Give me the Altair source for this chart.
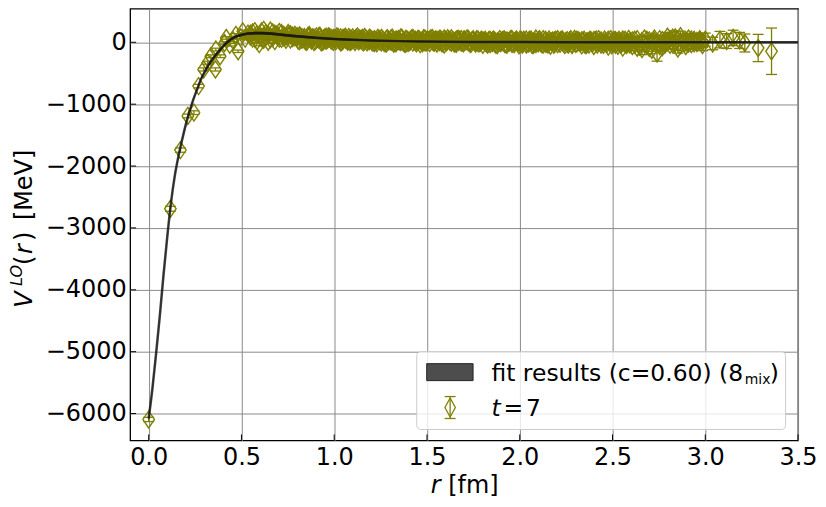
import altair as alt
import pandas as pd

FONT = "DejaVu Sans"
OLIVE = "#808000"

# ---- fit curve (black band) ----
fit_r = [0.00, 0.02, 0.04, 0.06, 0.08, 0.10, 0.12, 0.14, 0.16, 0.18, 0.20, 0.22, 0.24, 0.26,
         0.28, 0.30, 0.32, 0.34, 0.36, 0.38, 0.40, 0.42, 0.44, 0.47, 0.50, 0.54, 0.58, 0.62,
         0.66, 0.70, 0.75, 0.80, 0.90, 1.00, 1.10, 1.20, 1.35, 1.50, 1.75, 2.00, 2.50, 3.00, 3.50]
fit_v = [-6080, -5600, -5030, -4420, -3760, -3150, -2600, -2170, -1850, -1580, -1330, -1120,
         -930, -770, -610, -490, -380, -290, -210, -140, -70, -10, 40, 90, 120, 142, 150, 148,
         140, 128, 112, 96, 72, 54, 40, 30, 19, 12, 6, 3, 1, 0, 0]
fit_err = [45, 45, 42, 40, 38, 35, 32, 30, 28, 26, 24, 22, 22, 22, 22, 22, 22, 22, 22, 22, 22,
           22, 22, 22, 22, 22, 22, 22, 22, 22, 21, 20, 18, 16, 14, 12, 11, 10, 9, 8, 8, 8, 8]

# ---- lattice data t = 7 ----
r_near = [0.000, 0.117, 0.171, 0.211, 0.244, 0.269, 0.296, 0.318, 0.335, 0.360, 0.362, 0.385,
          0.409, 0.418, 0.437, 0.455, 0.470, 0.482, 0.495, 0.507, 0.520, 0.535]
v_near = [-6095, -2690, -1742, -1190, -1137, -708, -439, -330, -225, -439, -117, -225,
          -11, 70, -40, 30, 120, -145, 80, 177, 60, 140]
e_near = [35, 40, 35, 30, 30, 28, 25, 25, 22, 25, 22, 22, 20, 20, 20, 20, 20, 20, 20, 20, 20, 20]

r_a = [0.548, 0.560, 0.572, 0.584, 0.596, 0.608, 0.620, 0.632, 0.644, 0.656, 0.668, 0.680,
       0.692, 0.704, 0.716, 0.728, 0.740, 0.752, 0.764, 0.776, 0.788]
v_a = [95, 160, 60, 130, -30, 175, 40, 150, 10, 190, 70, 140, 100, 165, 55, 120, 90, 150,
       45, 105, 80]
v_a3 = [140, 60, 180, 20, 110, 70, 200, 90, 130, 50, 160, 20, 130, 60, 150, 80, 40, 110,
        130, 70, 120]
e_a = [28, 26, 30, 25, 27, 29, 26, 30, 28, 27, 25, 29, 26, 28, 27, 25, 26, 28, 27, 25, 26]

r_b = [0.800, 0.813, 0.826, 0.839, 0.852, 0.865, 0.878, 0.891, 0.904, 0.917, 0.930, 0.943,
       0.956, 0.969, 0.982, 0.995, 1.008, 1.021, 1.034, 1.047, 1.060, 1.073, 1.086, 1.099,
       1.112, 1.125, 1.138, 1.151, 1.164, 1.177]
v_b = [70, 110, 40, 85, 60, 120, 30, 75, 95, 45, 65, 20, 90, 55, 35, 70, 15, 50, 80, 25,
       45, 10, 60, 35, 5, 50, 30, 70, 15, 40]
v_b3 = [100, 20, 80, 50, 10, 90, 65, 5, 40, 100, 0, 60, 25, 95, 75, 10, 55, 85, 0, 70,
        90, 40, 5, 80, 45, 95, 60, 15, 85, 0]
e_b = [24, 22, 25, 23, 24, 22, 21, 23, 24, 22, 23, 21, 22, 24, 23, 22, 21, 23, 22, 24,
       21, 22, 23, 21, 22, 23, 21, 22, 23, 22]
r_b2 = [0.806, 0.819, 0.832, 0.845, 0.858, 0.871, 0.884, 0.897, 0.910, 0.923, 0.936, 0.949,
        0.962, 0.975, 0.988, 1.001, 1.014, 1.027, 1.040, 1.053, 1.066, 1.079, 1.092, 1.105,
        1.118, 1.131, 1.144, 1.157, 1.170, 1.183]
v_b2 = [30, 95, 55, 15, 100, 50, 80, 20, 60, 105, 10, 75, 40, 85, 25, 60, 95, 30, 5, 70,
        35, 85, 20, 55, 75, 15, 45, 0, 65, 25]

r_c = [1.190, 1.203, 1.216, 1.229, 1.242, 1.255, 1.268, 1.281, 1.294, 1.307, 1.320, 1.333,
       1.346, 1.359, 1.372, 1.385, 1.398, 1.411, 1.424, 1.437, 1.450, 1.463, 1.476, 1.489,
       1.502, 1.515, 1.528, 1.541, 1.554, 1.567, 1.580, 1.593, 1.606, 1.619, 1.632, 1.645,
       1.658, 1.671, 1.684, 1.697, 1.710, 1.723, 1.736, 1.749, 1.762, 1.775, 1.788, 1.801]
v_c = [20, 45, -10, 30, 55, 0, 25, -20, 40, 10, 35, -15, 50, 5, 20, -25, 30, 15, -5, 40,
       10, -30, 25, 0, 45, -10, 20, 35, -20, 5, 30, -35, 15, 40, -5, 25, -25, 10, 50, -15,
       20, 0, -30, 35, 10, -10, 25, -40]
v_c3 = [75, 10, 50, -15, 35, 70, -5, 55, 15, 65, -20, 45, 20, 80, 0, 55, -10, 40, 70, 5,
        50, 25, -15, 60, 10, 45, 70, -5, 40, 55, -15, 60, 0, 35, 65, -10, 45, 55, -5, 40,
        15, 55, 0, 50, -20, 45, -5, 30]
e_c = [20, 22, 21, 23, 20, 22, 24, 21, 23, 22, 20, 24, 22, 21, 23, 25, 22, 24, 21, 23,
       25, 22, 24, 23, 21, 25, 24, 22, 26, 23, 25, 24, 22, 26, 25, 23, 27, 24, 26, 25,
       23, 27, 26, 24, 28, 25, 27, 26]
r_c2 = [1.196, 1.209, 1.222, 1.235, 1.248, 1.261, 1.274, 1.287, 1.300, 1.313, 1.326, 1.339,
        1.352, 1.365, 1.378, 1.391, 1.404, 1.417, 1.430, 1.443, 1.456, 1.469, 1.482, 1.495,
        1.508, 1.521, 1.534, 1.547, 1.560, 1.573, 1.586, 1.599, 1.612, 1.625, 1.638, 1.651,
        1.664, 1.677, 1.690, 1.703, 1.716, 1.729, 1.742, 1.755, 1.768, 1.781, 1.794, 1.807]
v_c2 = [60, -5, 35, 70, 10, 45, -15, 65, 25, 75, -10, 40, 15, 70, -20, 50, 5, 60, 30, -15,
        55, 20, 65, -5, 30, 60, 0, 45, 15, 55, -10, 40, 65, 5, 35, -20, 50, 25, -5, 45,
        60, -10, 30, 5, 50, -15, 40, 20]

r_d = [1.814, 1.827, 1.840, 1.853, 1.866, 1.879, 1.892, 1.905, 1.918, 1.931, 1.944, 1.957,
       1.970, 1.983, 1.996, 2.009, 2.022, 2.035, 2.048, 2.061, 2.074, 2.087, 2.100, 2.113,
       2.126, 2.139, 2.152, 2.165, 2.178, 2.191, 2.204, 2.217, 2.230, 2.243, 2.256, 2.269,
       2.282, 2.295, 2.308, 2.321, 2.334, 2.347, 2.360, 2.373, 2.386, 2.399, 2.412, 2.425,
       2.438, 2.451, 2.464, 2.477, 2.490, 2.503, 2.516, 2.529, 2.542, 2.555, 2.568, 2.581,
       2.594]
v_d = [15, -35, 40, -10, 25, -45, 50, 5, -25, 30, -5, 55, -30, 20, -50, 35, 0, 45, -20, 10,
       -40, 60, -15, 25, -35, 40, 5, -55, 30, -10, 50, -25, 15, -45, 35, 0, -30, 55, -15, 20,
       -50, 40, 10, -35, 25, -60, 45, -5, 30, -40, 15, -70, 50, -20, 35, -55, 10, -85, 40, -30,
       20]
v_d3 = [40, 0, -30, 30, -20, 15, -5, 35, 45, -40, 20, -20, 10, 45, -10, -25, 40, -35, 25, 45,
        5, -30, 35, -10, 50, -20, -35, 15, -5, 40, -30, 20, 45, 5, -25, 30, -45, 10, 40, -5,
        30, -15, -40, 20, -5, 35, -15, 50, -35, 10, -10, 40, -20, 30, -40, 15, -25, 45, -15, 10,
        -35]
e_d = [26, 28, 27, 29, 28, 30, 27, 29, 31, 28, 30, 29, 31, 30, 32, 29, 31, 33, 30, 32,
       31, 33, 32, 34, 31, 33, 35, 32, 34, 33, 35, 34, 36, 33, 35, 37, 34, 36, 35, 37,
       38, 36, 37, 39, 36, 38, 40, 37, 39, 41, 38, 45, 40, 42, 44, 41, 43, 55, 42, 44,
       45]
r_d2 = [1.820, 1.833, 1.846, 1.859, 1.872, 1.885, 1.898, 1.911, 1.924, 1.937, 1.950, 1.963,
        1.976, 1.989, 2.002, 2.015, 2.028, 2.041, 2.054, 2.067, 2.080, 2.093, 2.106, 2.119,
        2.132, 2.145, 2.158, 2.171, 2.184, 2.197, 2.210, 2.223, 2.236, 2.249, 2.262, 2.275,
        2.288, 2.301, 2.314, 2.327, 2.340, 2.353, 2.366, 2.379, 2.392, 2.405, 2.418, 2.431,
        2.444, 2.457, 2.470, 2.483, 2.496, 2.509, 2.522, 2.535, 2.548, 2.561, 2.574, 2.587,
        2.600]
v_d2 = [-20, 35, 0, 45, -40, 20, -10, 40, -30, 10, 50, -25, 30, -5, 45, -35, 15, -15, 40, -45,
        25, 0, 50, -30, 15, -20, 45, 10, -40, 30, -5, 40, -20, 20, -35, 50, 5, -25, 35, -10,
        25, -45, 15, 40, -20, 30, -35, 10, -15, 45, -25, 20, -50, 35, 0, 40, -30, 25, -45, 55,
        -10]

r_e = [2.607, 2.620, 2.633, 2.646, 2.659, 2.672, 2.685, 2.698, 2.712, 2.726, 2.740, 2.754,
       2.768, 2.782, 2.796, 2.810, 2.824, 2.838, 2.852, 2.866, 2.880, 2.895, 2.910, 2.925,
       2.940, 2.955, 2.970, 2.985]
v_e = [-60, 40, -90, -20, -110, 60, -50, 30, -120, 20, -180, 50, -80, 10, 90, -40, 75, 80,
       -100, 100, 30, -60, 60, -30, 40, -10, 25, -45]
v_e3 = [30, -40, 50, -70, 20, -30, 40, -90, 10, 60, -20, -60, 35, -40, 20, 50, -30, -10,
        40, -50, 15, 30, -20, 45, -15, 20, 50, 10]
e_e = [40, 45, 45, 50, 90, 50, 55, 55, 60, 60, 125, 60, 65, 65, 70, 70, 75, 100, 75, 80,
       80, 80, 85, 85, 85, 90, 90, 90]

r_f = [3.000, 3.040, 3.079, 3.115, 3.150, 3.185, 3.213, 3.285, 3.357]
v_f = [43, -20, 43, 20, 70, 30, -11, -92, -145]
e_f = [105, 100, 133, 120, 125, 130, 145, 220, 375]

x_ticks = [0.0, 0.5, 1.0, 1.5, 2.0, 2.5, 3.0, 3.5]
y_ticks = [-6000, -5000, -4000, -3000, -2000, -1000, 0]

# ---- tables ----
r_all = (r_near + r_a + r_a + r_b + r_b2 + r_b + r_c + r_c2 + r_c + r_d + r_d2 + r_d
         + r_e + r_e + r_f)
v_all = (v_near + v_a + v_a3 + v_b + v_b2 + v_b3 + v_c + v_c2 + v_c3 + v_d + v_d2 + v_d3
         + v_e + v_e3 + v_f)
e_all = (e_near + e_a + e_a + e_b + e_b + e_b + e_c + e_c + e_c + e_d + e_d + e_d
         + e_e + e_e + e_f)
pts = pd.DataFrame({"r": r_all, "v": v_all, "e": e_all})
pts["lo"] = pts["v"] - pts["e"]
pts["hi"] = pts["v"] + pts["e"]

fit = pd.DataFrame({"r": fit_r, "v": fit_v, "e": fit_err})
fit["lo"] = fit["v"] - fit["e"]
fit["hi"] = fit["v"] + fit["e"]

W, H = 670, 433
xs = alt.Scale(domain=[-0.1, 3.5], nice=False, zero=False)
ys = alt.Scale(domain=[-6434, 542], nice=False, zero=False)

DIAMOND = "M0,-1L0.68,0L0,1L-0.68,0Z"
CAP = "M-1,0L1,0"

x_axis = alt.Axis(values=x_ticks, format=".1f", title=None, grid=True, gridColor="#8a8a8a",
                  gridWidth=1, ticks=False, tickSize=0, domain=False, labelFont=FONT,
                  labelFontSize=24, labelColor="black", labelPadding=5, labelFlush=False,
                  labelOverlap=False)
y_axis = alt.Axis(values=y_ticks, format="d", title=None, grid=True, gridColor="#8a8a8a",
                  gridWidth=1, ticks=False, tickSize=0, domain=False, labelFont=FONT,
                  labelFontSize=24, labelColor="black", labelPadding=4, labelOverlap=False)


def X(f):
    return alt.X(f, scale=xs, axis=x_axis)


def Y(f):
    return alt.Y(f, scale=ys, axis=y_axis)


bars = alt.Chart(pts).mark_rule(color=OLIVE, strokeWidth=1.3).encode(
    x=X("r:Q"), y=Y("lo:Q"), y2="hi:Q")
cap_lo = alt.Chart(pts).mark_point(shape=CAP, size=121, filled=False, color=OLIVE,
                                   strokeWidth=1.3, opacity=1).encode(x=X("r:Q"), y=Y("lo:Q"))
cap_hi = alt.Chart(pts).mark_point(shape=CAP, size=121, filled=False, color=OLIVE,
                                   strokeWidth=1.3, opacity=1).encode(x=X("r:Q"), y=Y("hi:Q"))
marks = alt.Chart(pts).mark_point(shape=DIAMOND, size=289, filled=False, color=OLIVE,
                                  strokeWidth=1.4, opacity=1).encode(x=X("r:Q"), y=Y("v:Q"))

band = alt.Chart(fit).mark_area(color="black", opacity=0.7, interpolate="monotone").encode(
    x=X("r:Q"), y=Y("lo:Q"), y2="hi:Q")
line = alt.Chart(fit).mark_line(color="#1a1a1a", strokeWidth=2.5, opacity=0.85,
                                interpolate="monotone").encode(x=X("r:Q"), y=Y("v:Q"))

# inward ticks
xt = pd.DataFrame({"r": x_ticks})
yt = pd.DataFrame({"v": y_ticks})
xtick = alt.Chart(xt).mark_rule(color="black", strokeWidth=1).encode(
    x=X("r:Q"), y=alt.value(H), y2=alt.value(H - 6))
ytick = alt.Chart(yt).mark_rule(color="black", strokeWidth=1).encode(
    y=Y("v:Q"), x=alt.value(0), x2=alt.value(6))

one = pd.DataFrame({"k": [0]})


def txt(s, x, y, size=24, italic=False, angle=None):
    kw = dict(text=s, align="left", baseline="alphabetic", font=FONT, fontSize=size,
              color="black")
    if italic:
        kw["fontStyle"] = "italic"
    if angle is not None:
        kw["angle"] = angle
    return alt.Chart(one).mark_text(**kw).encode(x=alt.value(x), y=alt.value(y))


# legend
leg_box = alt.Chart(one).mark_rect(fill="white", fillOpacity=0.8, stroke="#cccccc",
                                   strokeWidth=1, cornerRadius=4).encode(
    x=alt.value(287.5), x2=alt.value(657.5), y=alt.value(344), y2=alt.value(422))
leg_patch = alt.Chart(one).mark_rect(fill="#4d4d4d", stroke="#222222", strokeWidth=1).encode(
    x=alt.value(297.5), x2=alt.value(344), y=alt.value(356), y2=alt.value(373))
leg_bar = alt.Chart(one).mark_rule(color=OLIVE, strokeWidth=1.3).encode(
    x=alt.value(321), y=alt.value(389), y2=alt.value(411))
leg_cap1 = alt.Chart(one).mark_point(shape=CAP, size=121, filled=False, color=OLIVE,
                                     strokeWidth=1.3, opacity=1).encode(
    x=alt.value(321), y=alt.value(389))
leg_cap2 = alt.Chart(one).mark_point(shape=CAP, size=121, filled=False, color=OLIVE,
                                     strokeWidth=1.3, opacity=1).encode(
    x=alt.value(321), y=alt.value(411))
leg_dia = alt.Chart(one).mark_point(shape="M0,-1L0.55,0L0,1L-0.55,0Z", size=361, filled=False,
                                    color=OLIVE, strokeWidth=1.3, opacity=1).encode(
    x=alt.value(321), y=alt.value(400))

legend = [
    leg_box, leg_patch, leg_bar, leg_cap1, leg_cap2, leg_dia,
    txt("fit results (c=0.60) (8", 362.5, 373, size=23.5),
    txt("mix", 616.5, 376, size=14),
    txt(")", 641.5, 373, size=23.5),
    txt("t", 362.5, 408, size=23.5, italic=True),
    txt("=", 374.5, 408, size=23.5),
    txt("7", 397, 408, size=23.5),
]

# axis titles
titles = [
    txt("r", 301.5, 486, italic=True),
    txt("[fm]", 319, 486),
    txt("V", -98.5, 300, italic=True, angle=270),
    txt("LO", -108.5, 278, size=16, italic=True, angle=270),
    txt("(", -98.5, 257, angle=270),
    txt("r", -98.5, 246, italic=True, angle=270),
    txt(")", -98.5, 233, angle=270),
    txt("[MeV]", -98.5, 212, angle=270),
]

chart = alt.layer(
    bars, cap_lo, cap_hi, marks, band, line, xtick, ytick, *legend, *titles
).properties(
    width=W, height=H,
    autosize=alt.AutoSizeParams(type="none"),
    padding={"left": 122.5, "top": 0, "right": 20, "bottom": 60},
).configure(background="white").configure_view(stroke="black", strokeWidth=1.3)

chart.save("out.html", embed_options={"renderer": "svg", "actions": False})
